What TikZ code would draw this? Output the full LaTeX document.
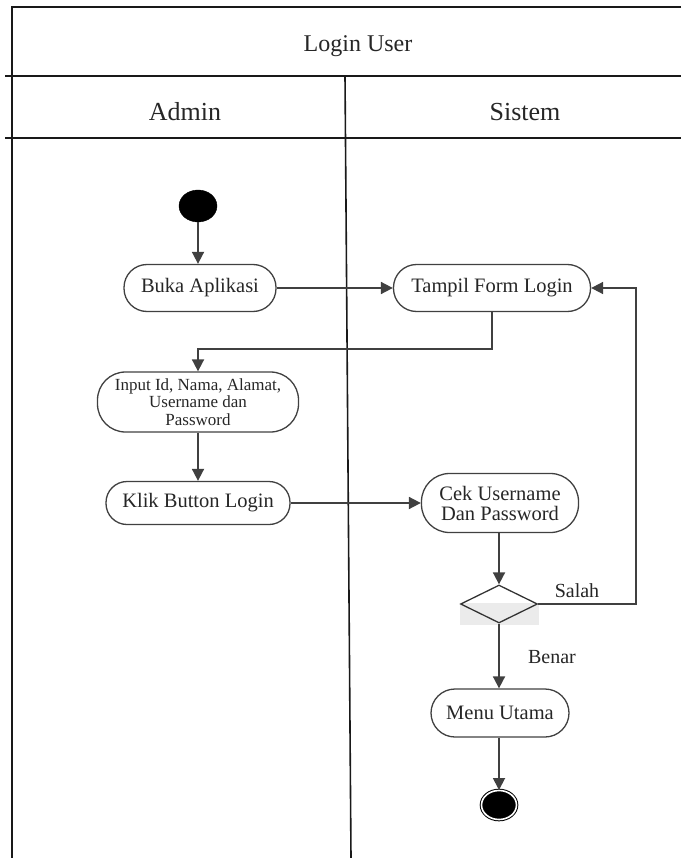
\documentclass[tikz,border=0pt]{standalone}
\usepackage{fontspec}
\setmainfont{Liberation Serif}
\usetikzlibrary{shapes.geometric}
\usetikzlibrary{arrows.meta}

\tikzset{
  lane/.style={line width=1.6pt, black!90},
  act/.style={draw=black!75, line width=1.3pt, rounded corners=23pt, minimum height=47pt,
    inner sep=0pt, align=center, text=black!85, font=\fontsize{20.5}{20}\selectfont},
  flow/.style={draw=black!75, line width=1.8pt, -{Triangle[length=12pt,width=12pt]}},
  lbl/.style={text=black!85, font=\fontsize{20}{22}\selectfont},
}

\begin{document}
\begin{tikzpicture}[x=1pt,y=-1pt]
	\useasboundingbox (0,0) rectangle (681,858);

	% draw the swimlanes
	\draw[lane] (681,7) -- (12,7) -- (12,858);
	\draw[lane] (5,76) -- (681,76);
	\draw[lane] (5,138) -- (681,138);
	\draw[lane] (345,76) -- (351,858);

	\node[lbl, font=\fontsize{24}{26}\selectfont] (judul) at (358,46) {Login User};
	\node[lbl, font=\fontsize{26}{28}\selectfont] (admin) at (185,112) {Admin};
	\node[lbl, font=\fontsize{26}{28}\selectfont] (sistem) at (525,112) {Sistem};

	% draw the activities
	\node[ellipse, fill=black, draw=black, minimum width=38pt, minimum height=32pt] (mulai) at (198,206) {};
	\node[act, minimum width=152pt] (buka) at (200,288) {Buka Aplikasi};
	\node[act, minimum width=197pt] (tampil) at (492,288) {Tampil Form Login};
	\node[act, minimum width=201pt, minimum height=60pt, rounded corners=28pt,
		font=\fontsize{17}{17.5}\selectfont] (input) at (198,402) {Input Id, Nama, Alamat,\\Username dan\\Password};
	\node[act, minimum width=184pt, minimum height=43pt, rounded corners=21pt] (klik) at (198,503) {Klik Button Login};
	\node[act, minimum width=157pt, minimum height=59pt, rounded corners=28pt] (cek) at (500,503) {Cek Username\\Dan Password};

	\fill[black!8] (460,603) rectangle (539,625);
	\node[diamond, draw=black!80, line width=1.3pt, inner sep=0pt, minimum width=77pt, minimum height=38pt] (pilih) at (499,604) {};

	\node[act, minimum width=138pt, minimum height=48pt, rounded corners=24pt] (menu) at (500,713) {Menu Utama};
	\node[ellipse, fill=black, draw=black, line width=1pt, double=white, double distance=1.6pt,
		minimum width=35pt, minimum height=29pt] (selesai) at (499,805) {};

	\node[lbl] (salah) at (577,591) {Salah};
	\node[lbl] (benar) at (552,657) {Benar};

	% draw the flows
	\draw[flow] (mulai) -- (mulai |- buka.north);
	\draw[flow] (buka) -- (tampil);
	\draw[flow] (tampil.south) -- ++(0,37) -| (input.north);
	\draw[flow] (input) -- (klik);
	\draw[flow] (klik) -- (cek);
	\draw[flow] (cek.south -| pilih) -- (pilih);
	\draw[flow] (pilih.east) -- ++(98,0) |- (tampil.east);
	\draw[flow] (pilih) -- (pilih |- menu.north);
	\draw[flow] (menu.south -| selesai) -- (selesai);

\end{tikzpicture}
\end{document}
